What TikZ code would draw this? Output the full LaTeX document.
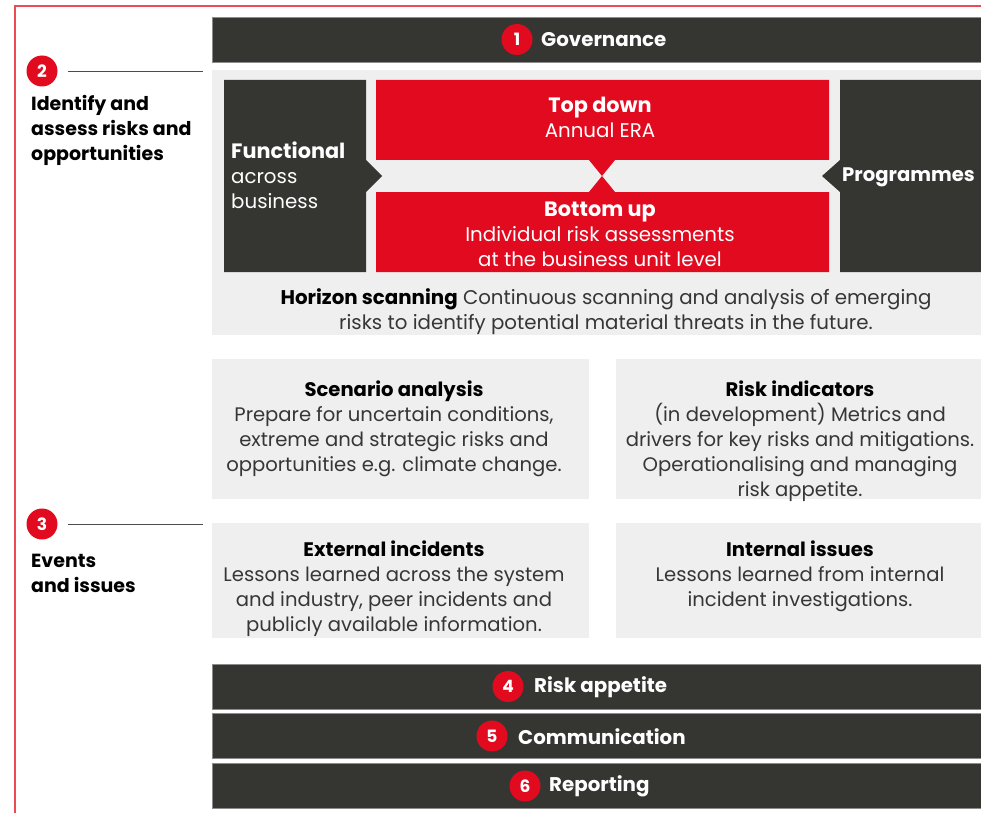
\documentclass[tikz,border=0pt]{standalone}
\usepackage{fontspec}
\setmainfont{Poppins}
\definecolor{dark}{HTML}{353631}
\definecolor{redm}{HTML}{E10A1E}
\definecolor{lgrey}{HTML}{EFEFEF}
\definecolor{frame}{HTML}{EC4A55}
\definecolor{txt}{HTML}{363636}
\tikzset{
  bar/.style={fill=dark, draw=black!45, line width=0.8pt},
  numc/.style={circle, fill=redm, text=white, font=\fontsize{17}{20}\selectfont\bfseries, minimum size=31pt, inner sep=0pt},
  bartxt/.style={anchor=west, text=white, font=\fontsize{19.8}{22}\selectfont\bfseries, inner sep=0pt},
  body/.style={align=center, inner sep=0pt, text=txt, font=\fontsize{19.6}{25}\selectfont},
  hbody/.style={align=center, inner sep=0pt, text=txt, font=\fontsize{19.8}{25}\selectfont},
  wbody/.style={align=center, inner sep=0pt, text=white, font=\fontsize{19.8}{25}\selectfont},
  side/.style={align=left, anchor=north west, inner sep=0pt, text=black, font=\fontsize{19}{25}\selectfont\bfseries},
  lead/.style={draw=black!70, line width=0.8pt},
}
\newcommand{\wh}[1]{{\fontsize{20.8}{25}\selectfont\bfseries #1}}
\begin{document}
\begin{tikzpicture}[x=1pt,y=-1pt]
\useasboundingbox (0,0) rectangle (981,813);
% frame
\draw[frame, line width=1.2pt] (15,813) -- (15,6) -- (981,6);
% governance
\path[bar] (212,17) rectangle (981,62);
\node[numc] (n1) at (517,39.5) {1};
\node[bartxt] (t1) at (541,40) {Governance};
% panel
\path[fill=lgrey] (212,70) rectangle (981,335);
\path[fill=dark] (224,80) -- (366,80) -- (366,160) -- (382,176) -- (366,192) -- (366,272) -- (224,272) -- cycle;
\path[fill=dark] (840,80) -- (981,80) -- (981,272) -- (840,272) -- (840,192) -- (822,176) -- (840,160) -- cycle;
\path[fill=redm] (376,80) -- (829,80) -- (829,160) -- (615,160) -- (602,176) -- (589,160) -- (376,160) -- cycle;
\path[fill=redm] (376,192) -- (589,192) -- (602,176) -- (615,192) -- (829,192) -- (829,272) -- (376,272) -- cycle;
\node[wbody, anchor=north west, align=left] (func) at (231,142) {\wh{Functional}\\across\\business};
\node[wbody] (top) at (600,117) {\wh{Top down}\\Annual ERA};
\node[wbody] (bot) at (600,234) {\wh{Bottom up}\\Individual risk assessments\\at the business unit level};
\node[wbody, anchor=west, font=\fontsize{19.6}{25}\selectfont\bfseries] (prog) at (842,177) {Programmes};
\node[hbody] (hor) at (606,312) {\textbf{\color{black}Horizon scanning} Continuous scanning and analysis of emerging\\risks to identify potential material threats in the future.};
% middle boxes
\path[fill=lgrey] (212,359) rectangle (589,499);
\path[fill=lgrey] (616,359) rectangle (981,499);
\path[fill=lgrey] (212,523) rectangle (589,638);
\path[fill=lgrey] (616,523) rectangle (981,638);
\node[body] (scen) at (394,428.5) {\textbf{\color{black}Scenario analysis}\\Prepare for uncertain conditions,\\extreme and strategic risks and\\opportunities e.g. climate change.};
\node[body] (ri) at (800,441) {\textbf{\color{black}Risk indicators}\\(in development) Metrics and\\drivers for key risks and mitigations.\\Operationalising and managing\\risk appetite.};
\node[body] (ext) at (394,589) {\textbf{\color{black}External incidents}\\Lessons learned across the system\\and industry, peer incidents and\\publicly available information.};
\node[body] (int) at (800,576.5) {\textbf{\color{black}Internal issues}\\Lessons learned from internal\\incident investigations.};
% lower bars
\path[bar] (212,664) rectangle (981,709);
\path[bar] (212,713) rectangle (981,758);
\path[bar] (212,763) rectangle (981,808);
\node[numc] (n4) at (508,686.5) {4};
\node[bartxt] (t4) at (534,687) {Risk appetite};
\node[numc] (n5) at (492,736) {5};
\node[bartxt] (t5) at (518,736.5) {Communication};
\node[numc] (n6) at (525,786) {6};
\node[bartxt] (t6) at (549,786.5) {Reporting};
% side labels
\node[numc] (n2) at (42,71) {2};
\coordinate (e2) at (203,71);
\draw[lead] (n2.east) ++(10,0) -- (e2);
\node[side] (s2) at (31,95) {Identify and\\assess risks and\\opportunities};
\node[numc] (n3) at (42,524) {3};
\coordinate (e3) at (203,524);
\draw[lead] (n3.east) ++(10,0) -- (e3);
\node[side] (s3) at (31,554) {Events\\and issues};
\end{tikzpicture}
\end{document}
